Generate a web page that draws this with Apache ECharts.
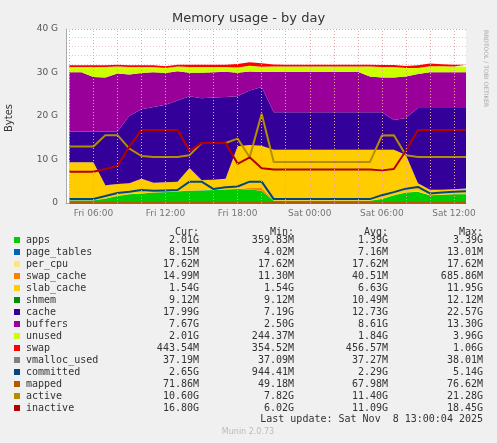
<!DOCTYPE html>
<html>
<head>
<meta charset="utf-8">
<script src="https://cdn.jsdelivr.net/npm/echarts@6/dist/echarts.min.js"></script>
<style>html,body{margin:0;padding:0;background:#f0f0f0;}#main{width:497px;height:443px;}</style>
</head>
<body>
<div id="main"></div>
<script>
// hours since Fri 00:00, one sample per hour (Fri 04:00 .. Sat 13:00)
const hours = [4,5,6,7,8,9,10,11,12,13,14,15,16,17,18,19,20,21,22,23,24,25,26,27,28,29,30,31,32,33,34,35,36,37];
const xTicks = [6, 12, 18, 24, 30, 36];
const xTickLabels = ['Fri 06:00', 'Fri 12:00', 'Fri 18:00', 'Sat 00:00', 'Sat 06:00', 'Sat 12:00'];
const xMinor = [4, 8, 10, 14, 16, 20, 22, 26, 28, 32, 34];

// stacked values in G
const apps = [0.6,0.6,0.6,1.0,1.6,2.0,2.2,2.4,2.5,2.7,2.8,2.9,3.0,3.1,3.2,3.1,2.8,0.5,0.5,0.5,0.5,0.5,0.5,0.5,0.5,0.5,0.9,1.8,2.4,2.6,1.8,1.9,2.0,2.0];
const pageTables = [0.01,0.01,0.01,0.01,0.01,0.01,0.01,0.01,0.01,0.01,0.01,0.01,0.01,0.01,0.01,0.01,0.01,0.01,0.01,0.01,0.01,0.01,0.01,0.01,0.01,0.01,0.01,0.01,0.01,0.01,0.01,0.01,0.01,0.01];
const perCpu = [0.02,0.02,0.02,0.02,0.02,0.02,0.02,0.02,0.02,0.02,0.02,0.02,0.02,0.02,0.02,0.02,0.02,0.02,0.02,0.02,0.02,0.02,0.02,0.02,0.02,0.02,0.02,0.02,0.02,0.02,0.02,0.02,0.02,0.02];
const swapCache = [0.02,0.02,0.02,0.02,0.02,0.02,0.02,0.02,0.02,0.02,0.02,0.02,0.02,0.02,0.02,0.3,0.6,0.03,0.02,0.02,0.02,0.02,0.02,0.02,0.02,0.02,0.02,0.02,0.02,0.02,0.02,0.02,0.02,0.02];
const slabCache = [8.7,8.7,8.7,3.0,2.7,2.5,3.3,2.2,2.2,2.1,5.2,2.3,2.3,2.4,9.8,9.9,9.7,11.7,11.7,11.7,11.7,11.7,11.7,11.7,11.7,11.7,11.3,10.4,8.6,1.9,1.2,1.1,1.1,1.3];
const shmem = [0.01,0.01,0.01,0.01,0.01,0.01,0.01,0.01,0.01,0.01,0.01,0.01,0.01,0.01,0.01,0.01,0.01,0.01,0.01,0.01,0.01,0.01,0.01,0.01,0.01,0.01,0.01,0.01,0.01,0.01,0.01,0.01,0.01,0.01];
const cache = [7.1,7.1,7.1,12.4,12.1,15.5,16.0,17.4,17.8,18.7,16.5,18.8,18.9,18.8,11.5,12.5,13.5,8.6,8.6,8.6,8.6,8.6,8.6,8.6,8.6,8.6,8.6,6.8,8.5,17.3,18.8,18.8,18.7,18.5];
const buffers = [13.6,13.6,12.5,12.4,13.3,9.5,8.3,8.0,7.3,6.7,5.4,5.9,5.8,5.8,5.4,4.4,3.5,9.3,9.3,9.3,9.3,9.3,9.3,9.3,9.3,8.2,8.0,9.8,9.5,7.8,8.2,8.2,8.2,8.2];
const unused = [1.2,1.2,2.3,2.4,1.6,1.7,1.4,1.2,1.2,1.1,1.3,1.3,1.2,1.1,1.2,1.3,1.2,1.2,1.2,1.2,1.2,1.2,1.2,1.2,1.2,2.3,2.4,2.4,2.0,1.4,1.4,1.4,1.3,1.3];
const swap = [0.4,0.4,0.4,0.4,0.4,0.4,0.4,0.4,0.4,0.4,0.55,0.55,0.55,0.55,0.8,0.8,0.8,0.45,0.45,0.45,0.45,0.45,0.45,0.45,0.45,0.45,0.45,0.45,0.45,0.6,0.6,0.45,0.45,0.45];

// line values in G
const vmallocUsed = [0.04,0.04,0.04,0.04,0.04,0.04,0.04,0.04,0.04,0.04,0.04,0.04,0.04,0.04,0.04,0.04,0.04,0.04,0.04,0.04,0.04,0.04,0.04,0.04,0.04,0.04,0.04,0.04,0.04,0.04,0.04,0.04,0.04,0.04];
const committed = [0.9,0.9,0.9,1.6,2.3,2.6,3.0,2.8,2.9,3.0,4.9,4.9,3.2,3.6,3.8,4.9,4.9,0.9,0.9,0.9,0.9,0.9,0.9,0.9,0.9,0.9,1.8,2.5,3.3,3.7,2.2,2.4,2.6,2.7];
const mapped = [0.07,0.07,0.07,0.07,0.07,0.07,0.07,0.07,0.07,0.07,0.07,0.07,0.07,0.07,0.07,0.07,0.07,0.07,0.07,0.07,0.07,0.07,0.07,0.07,0.07,0.07,0.07,0.07,0.07,0.07,0.07,0.07,0.07,0.07];
const active = [13.0,13.0,13.0,15.6,15.6,12.5,10.8,10.6,10.6,10.6,11.0,13.8,13.8,13.8,14.8,10.5,20.5,9.4,9.4,9.4,9.4,9.4,9.4,9.4,9.4,9.4,15.5,15.6,11.0,10.6,10.6,10.6,10.6,10.6];
const inactive = [7.2,7.2,7.2,7.8,8.5,13.0,16.8,16.8,16.8,16.8,12.0,13.8,13.8,13.8,9.0,10.5,8.0,7.7,7.7,7.7,7.7,7.7,7.7,7.7,7.7,7.7,7.5,7.8,12.0,16.8,16.8,16.8,16.8,16.8];

const legendRows = [
  ['apps', '#00cc00', '2.01G', '359.83M', '1.39G', '3.39G'],
  ['page_tables', '#0066b3', '8.15M', '4.02M', '7.16M', '13.01M'],
  ['per_cpu', '#ffe680', '17.62M', '17.62M', '17.62M', '17.62M'],
  ['swap_cache', '#ff8000', '14.99M', '11.30M', '40.51M', '685.86M'],
  ['slab_cache', '#ffcc00', '1.54G', '1.54G', '6.63G', '11.95G'],
  ['shmem', '#008f00', '9.12M', '9.12M', '10.49M', '12.12M'],
  ['cache', '#330099', '17.99G', '7.19G', '12.73G', '22.57G'],
  ['buffers', '#990099', '7.67G', '2.50G', '8.61G', '13.30G'],
  ['unused', '#ccff00', '2.01G', '244.37M', '1.84G', '3.96G'],
  ['swap', '#ff0000', '443.54M', '354.52M', '456.57M', '1.06G'],
  ['vmalloc_used', '#808080', '37.19M', '37.09M', '37.27M', '38.01M'],
  ['committed', '#00487d', '2.65G', '944.41M', '2.29G', '5.14G'],
  ['mapped', '#b35a00', '71.86M', '49.18M', '67.98M', '76.62M'],
  ['active', '#b38f00', '10.60G', '7.82G', '11.40G', '21.28G'],
  ['inactive', '#b30000', '16.80G', '6.02G', '11.09G', '18.45G']
];

const stacked = [
  ['apps', apps], ['page_tables', pageTables], ['per_cpu', perCpu], ['swap_cache', swapCache],
  ['slab_cache', slabCache], ['shmem', shmem], ['cache', cache], ['buffers', buffers],
  ['unused', unused], ['swap', swap]
];
const lines = [
  ['vmalloc_used', vmallocUsed], ['committed', committed], ['mapped', mapped],
  ['active', active], ['inactive', inactive]
];
const colorOf = {};
legendRows.forEach(r => colorOf[r[0]] = r[1]);

// Fri 7 Nov 2025 00:00 (local) as origin
const t0 = new Date(2025, 10, 7, 0, 0, 0).getTime();
const ts = h => t0 + h * 3600000;

const series = [];
stacked.forEach(([name, vals]) => {
  series.push({
    name, type: 'line', stack: 'mem', symbol: 'none',
    data: hours.map((h, i) => [ts(h), vals[i]]),
    lineStyle: { width: 0 },
    areaStyle: { color: colorOf[name], opacity: 1 },
    itemStyle: { color: colorOf[name] },
    z: 2
  });
});
lines.forEach(([name, vals]) => {
  series.push({
    name, type: 'line', symbol: 'none',
    data: hours.map((h, i) => [ts(h), vals[i]]),
    lineStyle: { width: 2, color: colorOf[name] },
    itemStyle: { color: colorOf[name] },
    z: 4
  });
});
// vertical grid lines
series.push({
  type: 'line', data: [], z: 3,
  markLine: {
    silent: true, symbol: 'none', label: { show: false },
    lineStyle: { color: '#e8a0a0', type: [1, 2], width: 1 },
    data: xTicks.concat(xMinor).map(v => ({ xAxis: ts(v) }))
  }
});
// x labels drawn at their axis positions
series.push({
  type: 'scatter', symbolSize: 0, z: 5, silent: true,
  data: xTicks.map((h, i) => ({ value: [ts(h), 0], label: { show: true, formatter: xTickLabels[i] } })),
  label: { position: 'bottom', distance: 6, color: '#555', fontSize: 9, fontFamily: 'DejaVu Sans' }
});

const mono = '"DejaVu Sans Mono", monospace';
const graphics = [
  { type: 'text', left: 'center', top: 12, style: { text: 'Memory usage - by day', font: '13px "DejaVu Sans"', fill: '#333' } },
  { type: 'text', x: 4, y: 132, rotation: Math.PI / 2, style: { text: 'Bytes', font: '10px "DejaVu Sans"', fill: '#333' } },
  { type: 'text', x: 489, y: 30, rotation: -Math.PI / 2, style: { text: 'RRDTOOL / TOBI OETIKER', font: '6px "DejaVu Sans"', fill: '#aaa' } },
  { type: 'text', x: 199, y: 227, style: { text: 'Cur:', font: '10px ' + mono, fill: '#333', textAlign: 'right' } },
  { type: 'text', x: 294, y: 227, style: { text: 'Min:', font: '10px ' + mono, fill: '#333', textAlign: 'right' } },
  { type: 'text', x: 388, y: 227, style: { text: 'Avg:', font: '10px ' + mono, fill: '#333', textAlign: 'right' } },
  { type: 'text', x: 483, y: 227, style: { text: 'Max:', font: '10px ' + mono, fill: '#333', textAlign: 'right' } },
  { type: 'text', x: 483, y: 414, style: { text: 'Last update: Sat Nov  8 13:00:04 2025', font: '10px ' + mono, fill: '#333', textAlign: 'right' } },
  { type: 'text', x: 248, y: 428, style: { text: 'Munin 2.0.73', font: '8px "DejaVu Sans"', fill: '#bbb', textAlign: 'center' } }
];
legendRows.forEach((r, i) => {
  const y = 235 + i * 12;
  graphics.push({ type: 'rect', shape: { x: 14, y: y + 2, width: 6, height: 6 }, style: { fill: r[1] } });
  graphics.push({ type: 'text', x: 26, y: y, style: { text: r[0], font: '10px ' + mono, fill: '#333' } });
  [199, 294, 388, 483].forEach((x, k) => {
    graphics.push({ type: 'text', x, y: y, style: { text: r[2 + k], font: '10px ' + mono, fill: '#333', textAlign: 'right' } });
  });
});

const chart = echarts.init(document.getElementById('main'), null, { renderer: 'canvas' });
chart.setOption({
  backgroundColor: '#f0f0f0',
  animation: false,
  grid: { left: 66, right: 31, top: 29, bottom: 240, show: true, backgroundColor: '#ffffff', borderWidth: 0 },
  graphic: graphics,
  xAxis: {
    type: 'time', min: ts(3.72), max: ts(37),
    axisLine: { lineStyle: { color: '#aaa' } },
    axisTick: { show: false },
    axisLabel: { show: false },
    splitLine: { show: false }
  },
  yAxis: {
    type: 'value', min: 0, max: 40, interval: 10,
    axisLine: { show: true, lineStyle: { color: '#aaa' } },
    axisTick: { show: false },
    axisLabel: { color: '#555', fontSize: 9, fontFamily: 'DejaVu Sans', formatter: v => v === 0 ? '0' : v + ' G' },
    splitLine: { lineStyle: { color: '#e8a0a0', type: [1, 2] } },
    minorTick: { show: false, splitNumber: 5 },
    minorSplitLine: { show: true, lineStyle: { color: '#e6c8c8', type: [1, 2] } }
  },
  series
});
</script>
</body>
</html>
